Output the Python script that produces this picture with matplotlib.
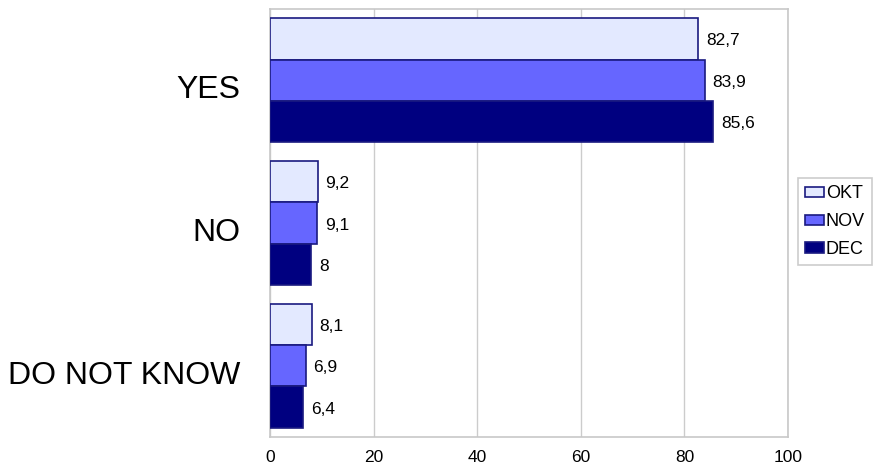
import matplotlib
matplotlib.use("Agg")
import matplotlib.pyplot as plt
import matplotlib.transforms as mtrans
import numpy as np

categories = ["YES", "NO", "DO NOT KNOW"]
series_names = ["OKT", "NOV", "DEC"]
okt = [82.7, 9.2, 8.1]
nov = [83.9, 9.1, 6.9]
dec = [85.6, 8.0, 6.4]
value_labels = [["82,7", "9,2", "8,1"], ["83,9", "9,1", "6,9"], ["85,6", "8", "6,4"]]
xticks = [0, 20, 40, 60, 80, 100]
colors = ["#E3E9FF", "#6666FF", "#000080"]

plt.rcParams['font.family'] = ['Liberation Sans', 'DejaVu Sans']
fig = plt.figure(figsize=(8.74, 4.70), dpi=100)
ax = fig.add_axes([270/874, 1-437/470, (788-270)/874, (437-9)/470])

y = np.arange(len(categories))
bh = 0.29
data = [okt, nov, dec]
handles = []
for i, (vals, c, name) in enumerate(zip(data, colors, series_names)):
    pos = y + (i - 1) * bh
    b = ax.barh(pos, vals, height=bh, color=c, edgecolor="#1a1a80", linewidth=1.2, label=name, zorder=3)
    handles.append(b)
    off = mtrans.ScaledTranslation(0, -2/100, fig.dpi_scale_trans)
    for p, v, lab in zip(pos, vals, value_labels[i]):
        ax.text(v + 1.5, p, lab, va="center", ha="left", fontsize=12.5, zorder=4,
                transform=ax.transData + off)

ax.set_xlim(0, 100)
ax.set_ylim(2.5, -0.5)
ax.set_xticks(xticks)
ax.set_xticklabels([str(t) for t in xticks], fontsize=12.5)
ax.set_yticks(y)
ax.set_yticklabels([])
ax.tick_params(axis="x", length=0, pad=9)
ax.tick_params(axis="y", length=0)
ax.xaxis.grid(True, color="#cccccc", linewidth=1, zorder=0)
for s in ax.spines.values():
    s.set_color("#c8c8c8")
    s.set_linewidth(1.2)

cat_tr = mtrans.blended_transform_factory(ax.transAxes, ax.transData) + \
    mtrans.ScaledTranslation(-30/100, -10/100, fig.dpi_scale_trans)
for yy, cat in zip(y, categories):
    ax.text(0, yy, cat, ha="right", va="center", fontsize=23, transform=cat_tr)

leg = fig.legend(handles=handles, labels=series_names, loc="upper left",
                 bbox_to_anchor=(798/874, 1-178/470), fontsize=13,
                 frameon=True, fancybox=False, edgecolor="#c0c0c0",
                 handlelength=1.05, handleheight=0.5, handletextpad=0.1,
                 borderpad=0.4, labelspacing=0.6, borderaxespad=0)
leg.get_frame().set_linewidth(1.2)

fig.savefig("out.png", dpi=100)
